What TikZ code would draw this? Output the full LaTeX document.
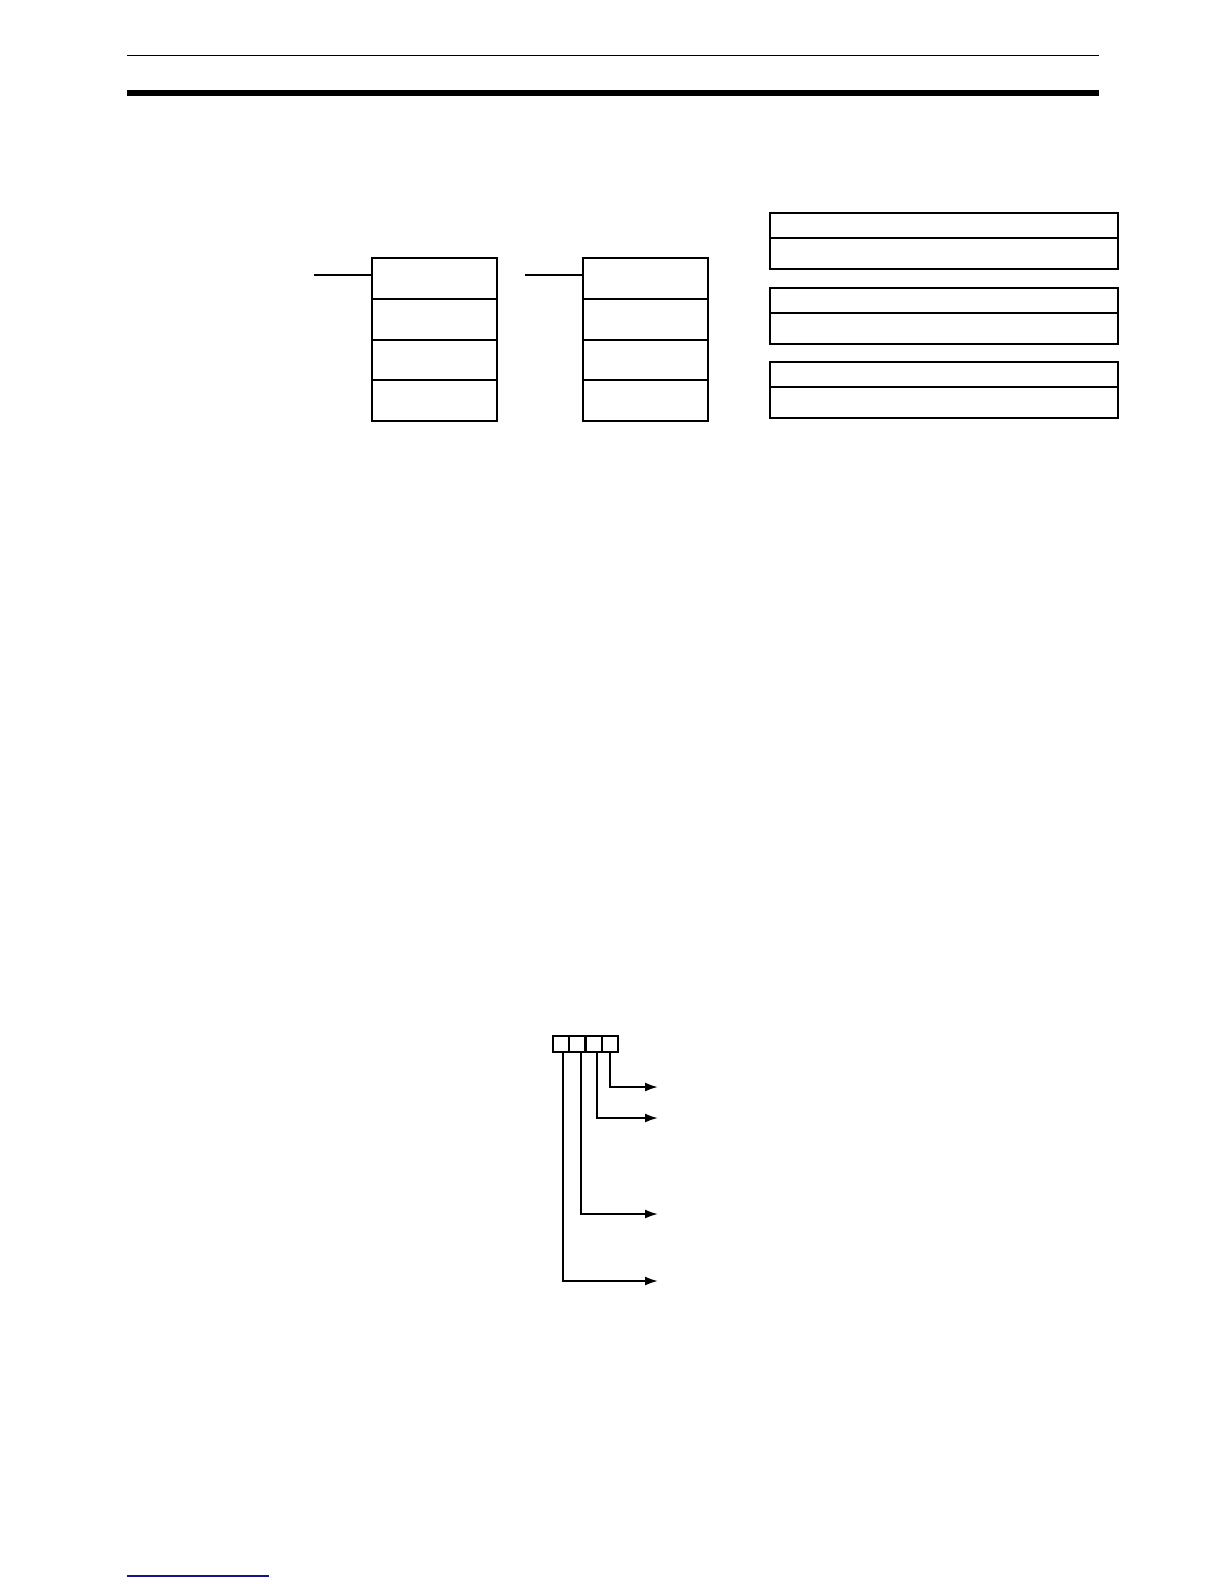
\documentclass[tikz,border=0pt]{standalone}
\usetikzlibrary{arrows.meta}
\tikzset{
  cell/.style={draw,line width=1pt,inner sep=0pt,outer sep=0pt,anchor=north west},
  ladder/.style={cell,minimum width=62.5pt,minimum height=20.4pt},
  head/.style={cell,minimum width=174pt,minimum height=12.5pt},
  body/.style={cell,minimum width=174pt,minimum height=15.7pt},
  bit/.style={cell,minimum width=8.1pt,minimum height=8pt},
  wire/.style={line width=1pt},
  outarrow/.style={line width=1pt,-{Latex[length=6.5pt,width=4.5pt]}}
}
\begin{document}
\begin{tikzpicture}[x=0.5pt,y=-0.5pt]
	\useasboundingbox (0,0) rectangle (1224,1584);
	% page rules
	\draw[line width=0.75pt] (127,55.5) -- (1099,55.5);
	\fill (127,90) rectangle (1099,96);
	\draw[color={rgb,255:red,20;green,20;blue,140},line width=0.75pt] (127,1576) -- (269,1576);
	% first instruction block
	\foreach \i in {1,...,4}
		\node[ladder] (a\i) at (372,{258+(\i-1)*40.75}) {};
	\coordinate (ain) at (314,275);
	\draw[wire] (ain) -- (a1.west |- ain);
	% second instruction block
	\foreach \i in {1,...,4}
		\node[ladder] (b\i) at (583,{258+(\i-1)*40.75}) {};
	\coordinate (bin) at (525,275);
	\draw[wire] (bin) -- (b1.west |- bin);
	% operand tables
	\foreach \i in {1,2,3} {
		\node[head] (h\i) at (770,{213+(\i-1)*74.5}) {};
		\node[body] (r\i) at (h\i.south west) {};
	}
	% control word
	\foreach \i in {1,...,4}
		\node[bit] (c\i) at ({553+(\i-1)*16.25},1036) {};
	\coordinate (t4) at (658,1087);
	\coordinate (t3) at (658,1118);
	\coordinate (t2) at (658,1214);
	\coordinate (t1) at (658,1281);
	\foreach \i/\dx in {1/1pt,2/2pt,3/1.5pt,4/0pt}
		\draw[outarrow] ([xshift=\dx]c\i.south) |- (t\i);
\end{tikzpicture}
\end{document}
